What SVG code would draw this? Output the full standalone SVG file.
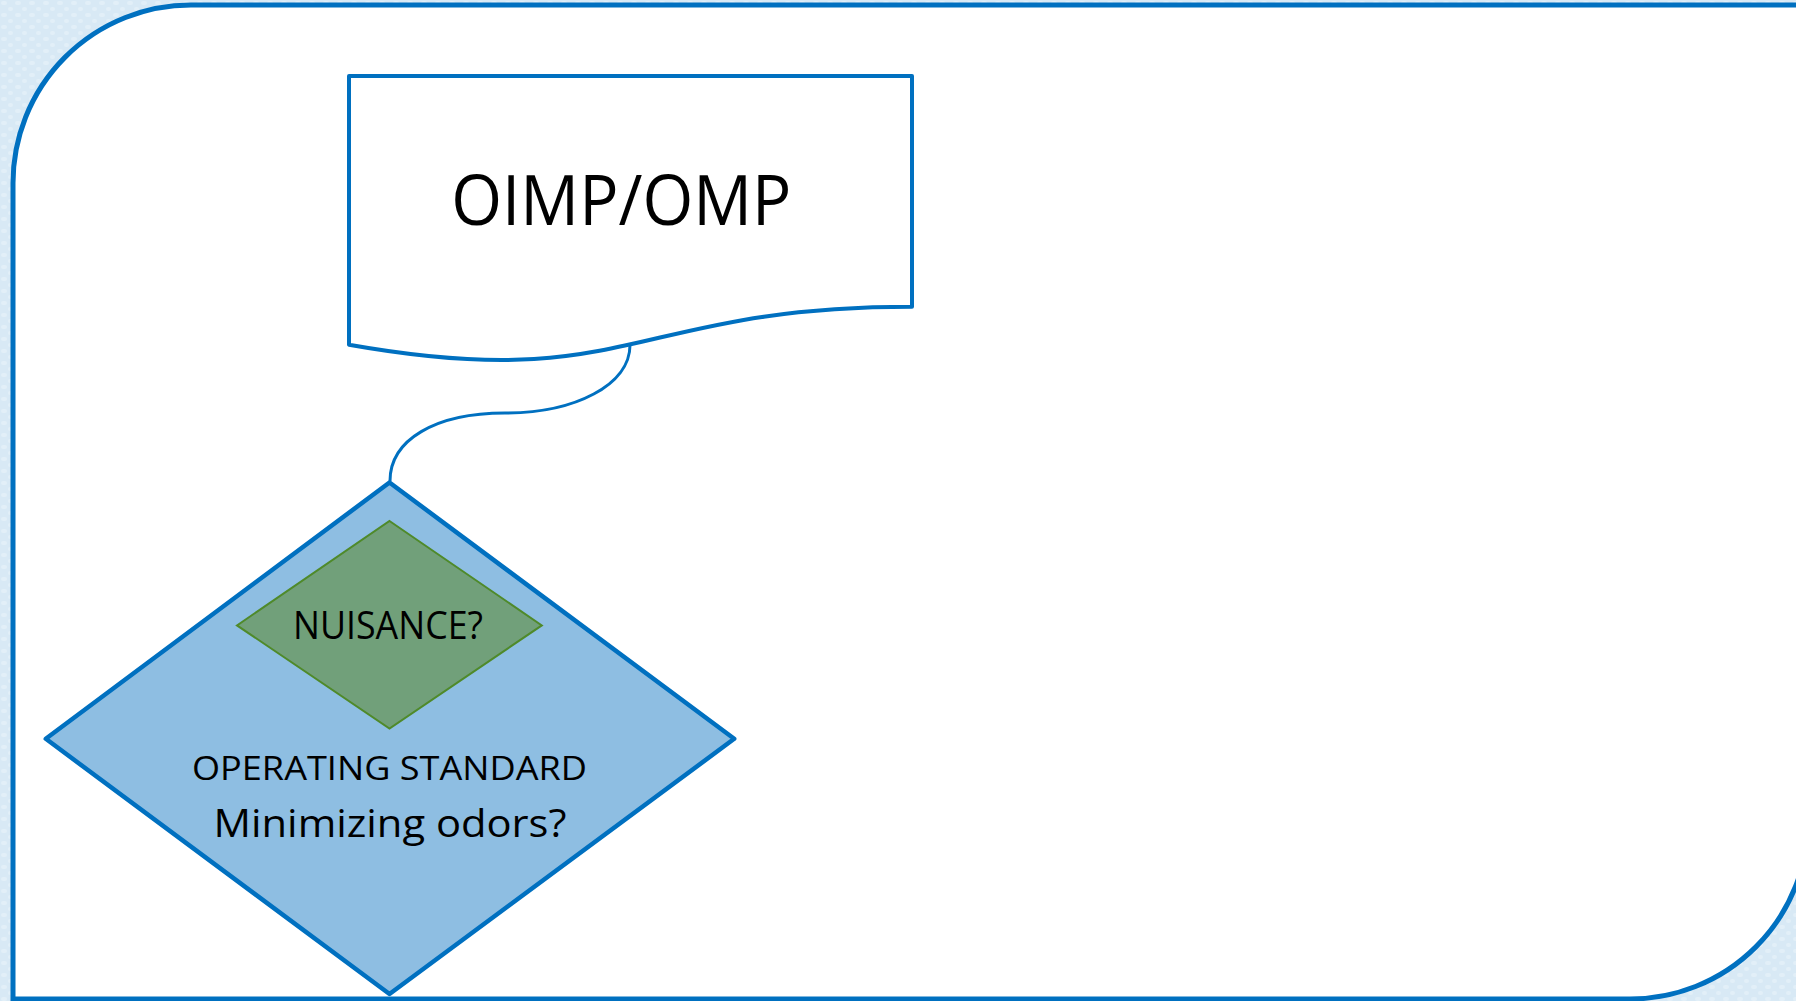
<svg xmlns="http://www.w3.org/2000/svg" width="1796" height="1001" viewBox="0 0 1796 1001">
  <defs>
    <pattern id="tex" width="14" height="12" patternUnits="userSpaceOnUse">
      <rect width="14" height="12" fill="#D8E9F5"/>
      <rect x="1" y="1" width="6" height="4" rx="2" fill="#E2EFF8"/>
      <rect x="8" y="7" width="5" height="4" rx="2" fill="#E2EFF8"/>
    </pattern>
  </defs>
  <style>
    .frame { fill: #FFFFFF; stroke: #0070C0; stroke-width: 5; }
    .doc { fill: #FFFFFF; stroke: #0070C0; stroke-width: 4; stroke-linejoin: round; }
    .dec { fill: #8EBEE2; stroke: #0070C0; stroke-width: 4.5; stroke-linejoin: round; }
    .inner { fill: #71A07A; stroke: #4F8A2A; stroke-width: 2; }
    .conn { fill: none; stroke: #0070C0; stroke-width: 3; }
    .t { font-family: "Open Sans", "Noto Sans", "Liberation Sans", sans-serif; fill: #000000; text-anchor: middle; }
  </style>
  <rect width="1796" height="1001" fill="url(#tex)"/>
  <path class="frame" d="M 13,999 L 13,183 A 178 178 0 0 1 191,5 L 1808,5 L 1808,821 A 178 178 0 0 1 1630,999 Z"/>

  <g id="connectors">
    <path class="conn" d="M 630,345 C 630,385 575,413 505,413 C 435,413 390,440 390,481"/>
  </g>

  <g id="node-oimp">
    <path class="doc" d="M 349,76 L 912,76 L 912,306.7 C 630.5,306.7 630.5,394.6 349,344.7 Z"/>
    <text class="t" x="621.3" y="225" font-size="70" textLength="340" lengthAdjust="spacingAndGlyphs">OIMP/OMP</text>
  </g>

  <g id="node-operating-standard">
    <polygon class="dec" points="389.5,482.5 734.2,738.8 389.5,994 45.8,738.8"/>
    <text class="t" x="389.5" y="780" font-size="33" textLength="395" lengthAdjust="spacingAndGlyphs">OPERATING STANDARD</text>
    <text class="t" x="390" y="836.7" font-size="38" textLength="353" lengthAdjust="spacingAndGlyphs">Minimizing odors?</text>
  </g>

  <g id="node-nuisance">
    <polygon class="inner" points="389.5,521 541.8,625.4 389.5,728.5 237,625.4"/>
    <text class="t" x="388" y="639.3" font-size="39" textLength="190" lengthAdjust="spacingAndGlyphs">NUISANCE?</text>
  </g>
</svg>
